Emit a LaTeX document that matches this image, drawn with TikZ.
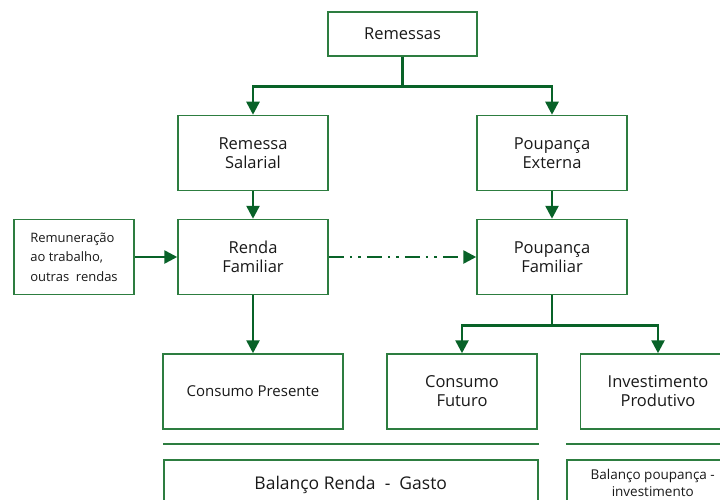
\documentclass[tikz,border=0pt]{standalone}
\usepackage{fontspec}
\setmainfont{Open Sans}
\usetikzlibrary{arrows.meta, positioning}
\definecolor{linegreen}{RGB}{8,98,40}
\definecolor{boxgreen}{RGB}{45,125,64}
\tikzstyle{flowbox} = [rectangle, minimum width=150pt, minimum height=75pt, text centered, align=center, draw=boxgreen, line width=1.5pt, text=black!90, font=\fontsize{16.5}{19}\selectfont]
\tikzstyle{smallbox} = [rectangle, minimum width=120pt, minimum height=75pt, align=center, draw=boxgreen, line width=1.5pt, text=black!90, font=\fontsize{13}{19.5}\selectfont]
\tikzstyle{link} = [line width=2.6pt, draw=linegreen]
\tikzstyle{arrow} = [link, -{Triangle[length=13pt,width=13pt]}]
\tikzstyle{rule} = [line width=1.5pt, draw=boxgreen]

\begin{document}
\begin{tikzpicture}[x=1pt, y=-1pt, node distance=104pt]
\useasboundingbox (0,0) rectangle (720,500);
\clip (0,0) rectangle (720,500);

\node (remessas) [flowbox, minimum width=149pt, minimum height=44pt] at (402.5,34) {Remessas};
\node (salarial) [flowbox] at (253,153) {Remessa\\Salarial};
\node (externa) [flowbox] at (552,153) {Poupança\\Externa};
\node (renda) [flowbox, below of=salarial] {Renda\\Familiar};
\node (poupanca) [flowbox, below of=externa] {Poupança\\Familiar};
\node (remun) [smallbox, align=left] at (74,257) {Remuneração\\ao trabalho,\\outras\ \ rendas};
\node (presente) [flowbox, minimum width=180pt, font=\fontsize{15}{18}\selectfont] at (253,391.5) {Consumo Presente};
\node (futuro) [flowbox] at (462,391.5) {Consumo\\Futuro};
\node (invest) [flowbox, minimum width=155pt] at (658,391.5) {Investimento\\Produtivo};
\node (gasto) [flowbox, minimum width=374pt, minimum height=50pt, anchor=north west, font=\fontsize{17.5}{20}\selectfont] at (163,459) {Balanço Renda\ \ -\ \ Gasto};
\node (saldo) [smallbox, minimum width=172pt, minimum height=46pt, anchor=north west, font=\fontsize{13.5}{17}\selectfont] at (566,459) {Balanço poupança -\\investimento};

% separators above the balance boxes
\draw [rule] ([yshift=15pt]gasto.north west) -- ([yshift=15pt]gasto.north east);
\draw [rule] ([yshift=15pt]saldo.north west) -- ([yshift=15pt]saldo.north east);

\draw [link] (remessas.south) -- ++(0,30) coordinate (split);
\draw [arrow] (split) -| (salarial.north);
\draw [arrow] (split) -| (externa.north);
\draw [arrow] (salarial) -- (renda);
\draw [arrow] (externa) -- (poupanca);
\draw [arrow] (remun) -- (renda);
\draw [arrow, dash pattern=on 15pt off 6pt on 2.5pt off 6pt on 2.5pt off 6pt] (renda) -- (poupanca);
\draw [arrow] (renda) -- (presente);
\draw [link] (poupanca.south) -- ++(0,30) coordinate (split2);
\draw [arrow] (split2) -| (futuro.north);
\draw [arrow] (split2) -| (invest.north);
\end{tikzpicture}
\end{document}
